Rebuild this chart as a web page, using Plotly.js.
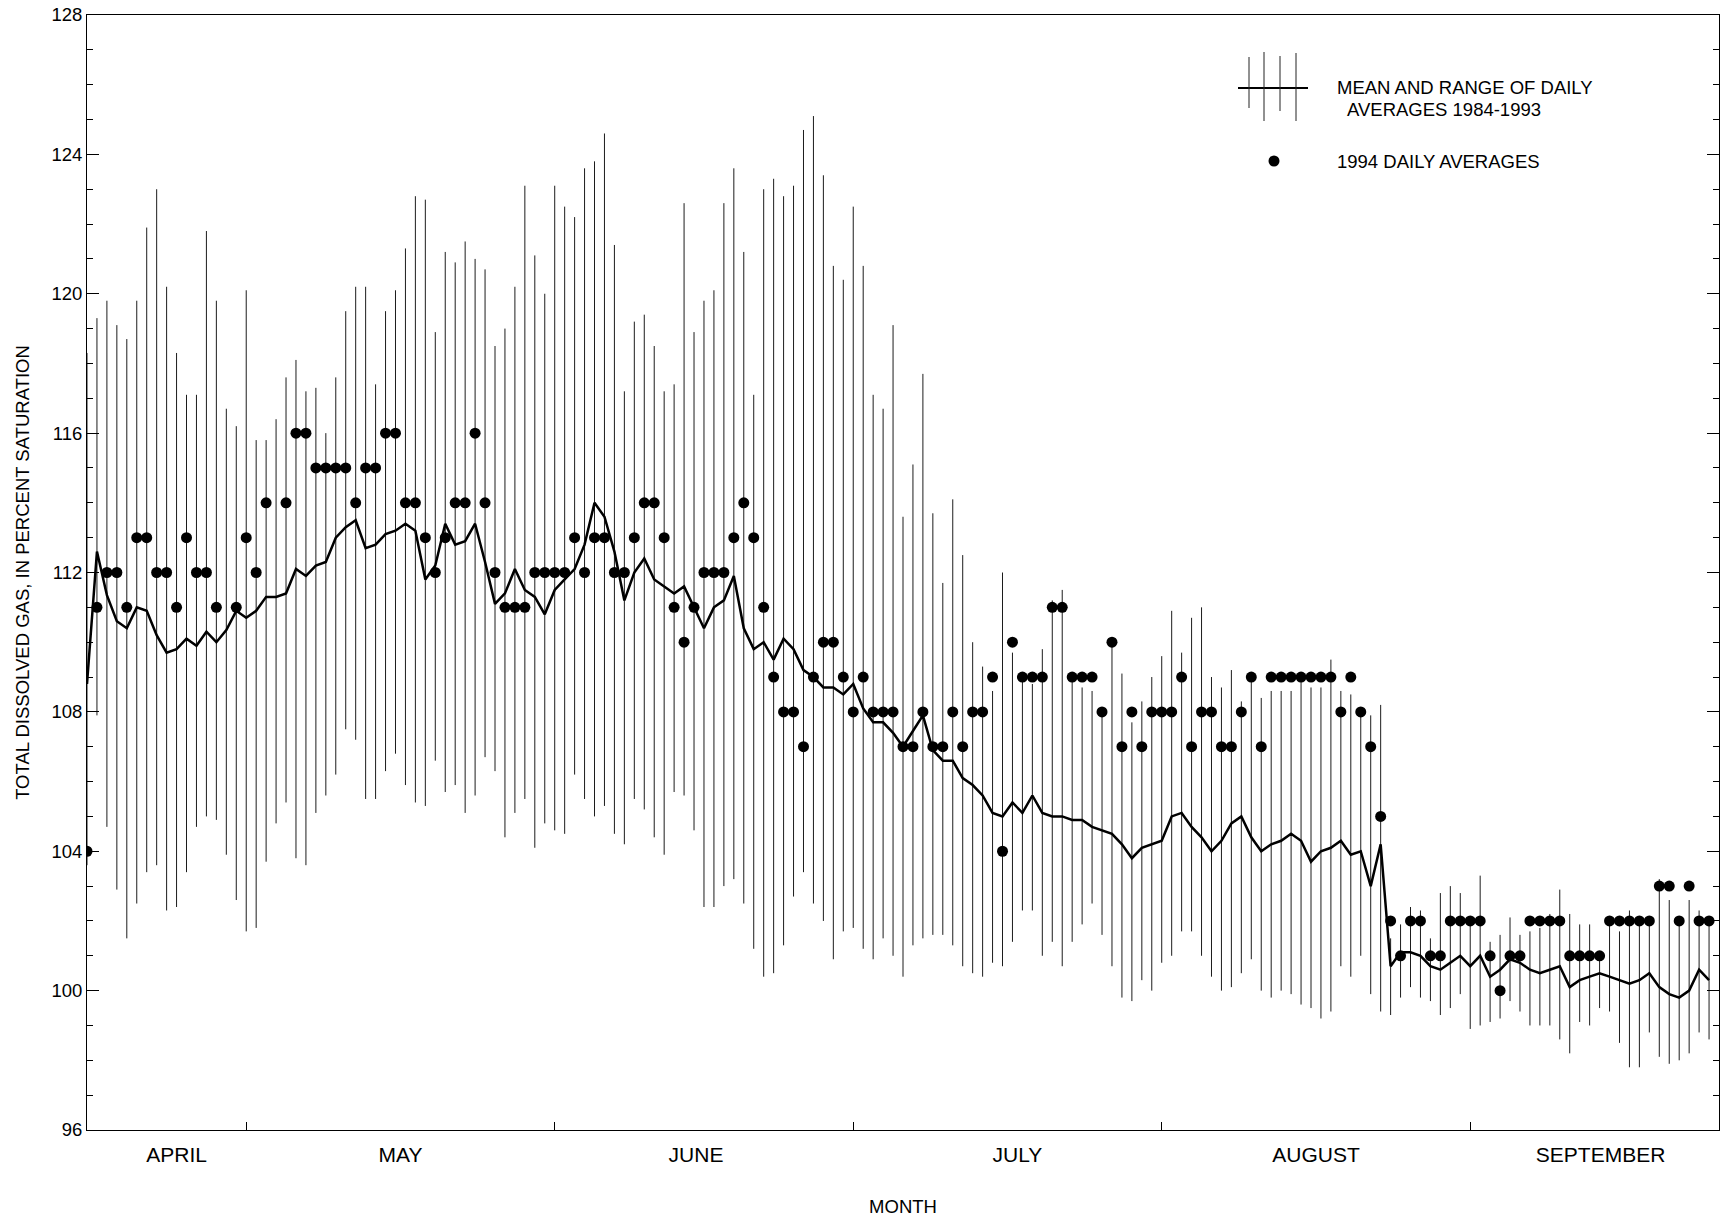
<!DOCTYPE html>
<html><head><meta charset="utf-8">
<script src="https://cdn.plot.ly/plotly-3.0.1.min.js"></script>
<style>html,body{margin:0;padding:0;background:#fff}#chart{width:1721px;height:1217px}</style>
</head><body><div id="chart"></div>
<script>
// Day index 0 = April 15, 1994 (last day = September 25)
const meanVals = [
108.8,112.6,111.35,110.6,110.4,111.0,110.9,110.2,109.7,109.8,
110.1,109.9,110.3,110.0,110.35,110.9,110.7,110.9,111.3,111.3,
111.4,112.1,111.9,112.2,112.3,113.0,113.3,113.5,112.7,112.8,
113.1,113.2,113.4,113.2,111.8,112.2,113.4,112.8,112.9,113.4,
112.3,111.1,111.4,112.1,111.5,111.3,110.8,111.5,111.8,112.1,
112.8,114.0,113.6,112.6,111.2,112.0,112.4,111.8,111.6,111.4,
111.6,111.0,110.4,111.0,111.2,111.9,110.4,109.8,110.0,109.5,
110.1,109.8,109.2,109.0,108.7,108.7,108.5,108.8,108.1,107.7,
107.7,107.4,107.0,107.45,107.9,106.9,106.6,106.6,106.1,105.9,
105.6,105.1,105.0,105.4,105.1,105.6,105.1,105.0,105.0,104.9,
104.9,104.7,104.6,104.5,104.2,103.8,104.1,104.2,104.3,105.0,
105.1,104.7,104.4,104.0,104.3,104.8,105.0,104.4,104.0,104.2,
104.3,104.5,104.3,103.7,104.0,104.1,104.3,103.9,104.0,103.0,
104.2,100.7,101.1,101.1,101.0,100.7,100.6,100.8,101.0,100.7,
101.0,100.4,100.6,100.9,100.8,100.6,100.5,100.6,100.7,100.1,
100.3,100.4,100.5,100.4,100.3,100.2,100.3,100.5,100.1,99.9,
99.8,100.0,100.6,100.3];

const maxVals = [
118.3,119.3,119.8,119.1,118.7,119.8,121.9,123.0,120.2,118.3,
117.1,117.1,121.8,119.8,116.7,116.2,120.1,115.8,115.8,116.4,
117.6,118.1,117.2,117.3,116.0,117.6,119.5,120.2,120.2,117.4,
119.5,120.1,121.3,122.8,122.7,118.9,121.2,120.9,121.5,121.0,
120.7,118.5,119.0,120.2,123.1,121.1,120.0,123.1,122.5,122.2,
123.6,123.8,124.6,121.4,117.2,119.2,119.4,118.5,117.2,117.4,
122.6,118.9,119.8,120.1,122.6,123.6,121.2,117.1,123.0,123.3,
122.8,123.1,124.7,125.1,123.4,120.8,120.4,122.5,120.8,117.1,
116.7,119.1,113.6,115.1,117.7,113.7,111.7,114.1,112.5,110.0,
109.3,108.6,112.0,109.7,109.1,108.8,109.8,111.2,111.5,108.9,
108.7,108.6,108.0,110.0,109.1,107.7,108.3,109.0,109.6,110.9,
109.7,110.7,111.0,109.0,108.7,109.2,108.3,109.0,108.4,108.6,
108.6,108.6,109.0,108.7,108.7,109.5,108.6,108.5,108.0,107.9,
108.2,101.5,101.9,102.4,102.3,101.5,102.8,103.0,102.8,102.1,
103.3,101.4,101.6,102.1,101.6,101.7,101.8,102.2,102.9,102.2,
101.9,101.9,101.1,102.0,101.7,102.3,102.0,102.0,103.2,102.6,
102.0,102.6,102.3,102.0];

const minVals = [
103.6,107.9,104.7,102.9,101.5,102.5,103.4,103.6,102.3,102.4,
103.4,104.7,105.0,104.9,103.9,102.6,101.7,101.8,103.7,104.8,
105.4,103.8,103.6,105.1,105.6,106.2,107.5,107.2,105.5,105.5,
106.3,106.8,105.9,105.4,105.3,106.6,105.7,105.9,105.1,105.6,
106.7,106.3,104.4,105.1,105.5,104.1,104.8,104.6,104.5,106.2,
105.5,105.0,105.3,104.5,104.2,105.5,105.2,104.4,103.9,105.7,
105.6,104.6,102.4,102.4,103.0,103.2,102.5,101.2,100.4,100.5,
101.3,102.7,103.4,102.5,102.0,100.9,101.7,101.8,101.2,100.9,
101.5,101.0,100.4,101.3,101.5,101.6,101.6,101.3,100.7,100.5,
100.4,100.8,100.7,101.4,102.3,102.3,101.0,101.4,100.7,101.4,
101.9,102.5,101.6,100.7,99.8,99.7,100.3,100.0,100.8,101.0,
101.7,101.7,101.0,100.4,100.0,100.1,100.5,100.9,100.0,99.8,
100.0,99.9,99.6,99.5,99.2,99.4,100.7,100.4,101.0,99.9,
99.4,99.3,99.8,100.1,99.8,99.7,99.3,99.5,99.9,98.9,
99.0,99.1,99.2,99.7,99.4,99.0,99.0,99.0,98.6,98.2,
99.1,99.0,99.5,99.4,98.5,97.8,97.8,98.8,98.1,97.9,
98.0,98.2,98.8,98.6];

const daily1994 = [
104,111,112,112,111,113,113,112,112,111,
113,112,112,111,null,111,113,112,114,null,
114,116,116,115,115,115,115,114,115,115,
116,116,114,114,113,112,113,114,114,116,
114,112,111,111,111,112,112,112,112,113,
112,113,113,112,112,113,114,114,113,111,
110,111,112,112,112,113,114,113,111,109,
108,108,107,109,110,110,109,108,109,108,
108,108,107,107,108,107,107,108,107,108,
108,109,104,110,109,109,109,111,111,109,
109,109,108,110,107,108,107,108,108,108,
109,107,108,108,107,107,108,109,107,109,
109,109,109,109,109,109,108,109,108,107,
105,102,101,102,102,101,101,102,102,102,
102,101,100,101,101,102,102,102,102,101,
101,101,101,102,102,102,102,102,103,103,
102,103,102,102];

const monthStartDays = [16, 47, 77, 108, 139];
const monthLabelDays = [9, 31.5, 61.2, 93.5, 123.5, 152.1];
const monthNames = ['APRIL','MAY','JUNE','JULY','AUGUST','SEPTEMBER'];
const yTickVals = [96,100,104,108,112,116,120,124,128];

const dayIdx = meanVals.map((_, i) => i);
const rangeX = [], rangeY = [];
dayIdx.forEach(d => { rangeX.push(d, d, null); rangeY.push(minVals[d], maxVals[d], null); });

const FONT = '"Liberation Sans", Arial, Helvetica, sans-serif';

const traces = [
  {x: rangeX, y: rangeY, mode: 'lines', line: {color: '#1c1c1c', width: 1}, hoverinfo: 'skip', showlegend: false},
  {x: dayIdx, y: meanVals, mode: 'lines', line: {color: '#000', width: 2.5}, showlegend: false},
  {x: dayIdx, y: daily1994, mode: 'markers', marker: {color: '#000', size: 11}, showlegend: false},
  {x: [null], y: [null], xaxis: 'x2', mode: 'markers', showlegend: false}
];

// legend drawn in plot pixel space -> paper
const L = 87, R = 1719, T = 15, B = 1130;
const px = p => (p - L) / (R - L);
const py = p => (B - p) / (B - T);
const legBars = [[1249, 57, 108], [1264, 52, 121], [1280, 56, 111], [1296, 53, 121]];
const shapes = [
  {type: 'line', xref: 'paper', yref: 'paper', x0: px(1238), x1: px(1308), y0: py(88), y1: py(88), line: {color: '#000', width: 2}}
];
legBars.forEach(b => shapes.push({type: 'line', xref: 'paper', yref: 'paper', x0: px(b[0]), x1: px(b[0]), y0: py(b[1]), y1: py(b[2]), line: {color: '#222', width: 1}}));
shapes.push({type: 'circle', xref: 'paper', yref: 'paper', x0: px(1268.5), x1: px(1279.5), y0: py(155.5), y1: py(166.5), fillcolor: '#000', line: {color: '#000', width: 0}});

const annotations = [
  {xref: 'paper', yref: 'paper', x: px(1335), y: py(87), xanchor: 'left', yanchor: 'middle', text: 'MEAN AND RANGE OF DAILY', showarrow: false, font: {size: 18.5, color: '#000', family: FONT}},
  {xref: 'paper', yref: 'paper', x: px(1345), y: py(109), xanchor: 'left', yanchor: 'middle', text: 'AVERAGES 1984-1993', showarrow: false, font: {size: 18.5, color: '#000', family: FONT}},
  {xref: 'paper', yref: 'paper', x: px(1335), y: py(161), xanchor: 'left', yanchor: 'middle', text: '1994 DAILY AVERAGES', showarrow: false, font: {size: 18.5, color: '#000', family: FONT}}
];

const layout = {
  width: 1721, height: 1217,
  margin: {l: L, r: 1721 - R, t: T, b: 1217 - B},
  paper_bgcolor: '#fff', plot_bgcolor: '#fff',
  font: {family: FONT, color: '#000', size: 18.5},
  showlegend: false,
  xaxis: {range: [0, 164], tickmode: 'array', tickvals: monthStartDays, ticks: 'inside', ticklen: 8, tickwidth: 1, tickcolor: '#000',
          showticklabels: false, showline: true, linecolor: '#000', linewidth: 1, mirror: true, showgrid: false, zeroline: false},
  xaxis2: {overlaying: 'x', anchor: 'y', side: 'bottom', range: [0, 164], tickmode: 'array', tickvals: monthLabelDays, ticktext: monthNames,
           ticks: 'outside', ticklen: 6, tickcolor: 'rgba(0,0,0,0)', showline: false, showgrid: false, zeroline: false, tickfont: {size: 21, family: FONT},
           title: {text: 'MONTH', font: {size: 18.5, family: FONT}, standoff: 41}},
  yaxis: {range: [96, 128], tickmode: 'array', tickvals: yTickVals, ticktext: yTickVals.map(String), ticks: 'inside', ticklen: 12, tickwidth: 1, tickcolor: '#000',
          minor: {dtick: 1, tick0: 96, ticks: 'inside', ticklen: 6, tickwidth: 1, tickcolor: '#000'},
          showline: true, linecolor: '#000', linewidth: 1, mirror: 'ticks', showgrid: false, zeroline: false,
          tickfont: {size: 18.5, family: FONT},
          title: {text: 'TOTAL DISSOLVED GAS, IN PERCENT SATURATION', font: {size: 18.5, family: FONT}, standoff: 16}},
  shapes: shapes,
  annotations: annotations
};

Plotly.newPlot('chart', traces, layout, {displayModeBar: false, staticPlot: true});
</script></body></html>
